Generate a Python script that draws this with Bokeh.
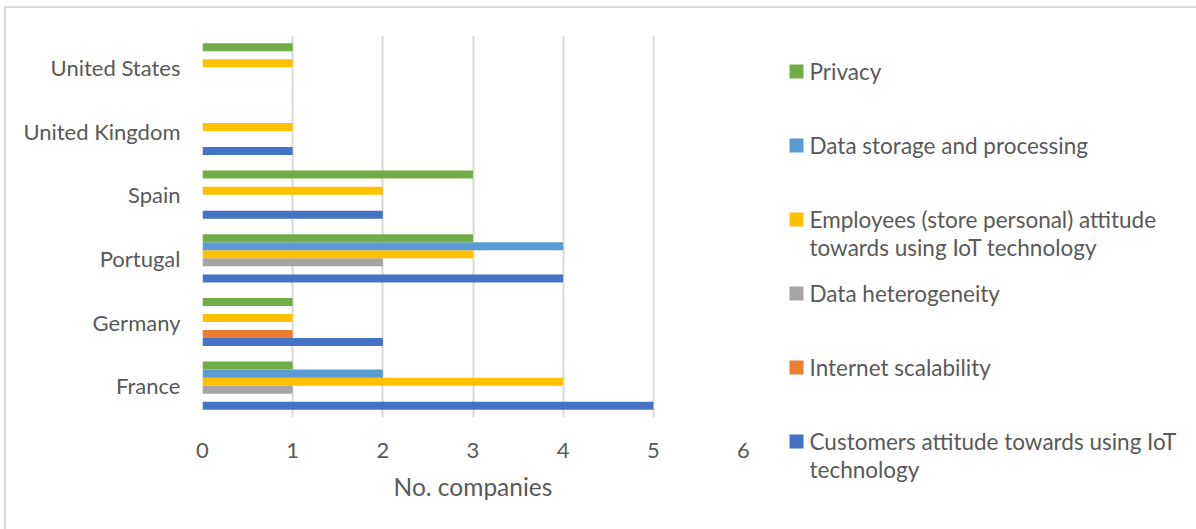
from bokeh.plotting import figure
from bokeh.models import FactorRange, Range1d, FixedTicker, ColumnDataSource
from bokeh.transform import dodge
from bokeh.layouts import row, column
from bokeh.embed import file_html
from bokeh.resources import INLINE
from bokeh.core.properties import value

countries = ["France", "Germany", "Portugal", "Spain", "United Kingdom", "United States"]
series = [
    "Customers attitude towards using IoT\ntechnology",
    "Internet scalability",
    "Data heterogeneity",
    "Employees (store personal) attitude\ntowards using IoT technology",
    "Data storage and processing",
    "Privacy",
]
customers = [5, 2, 4, 2, 1, 0]
internet = [0, 1, 0, 0, 0, 0]
heterogeneity = [1, 0, 2, 0, 0, 0]
employees = [4, 1, 3, 2, 1, 1]
storage = [2, 0, 4, 0, 0, 0]
privacy = [1, 1, 3, 3, 0, 1]
colors = ["#4472C4", "#ED7D31", "#A5A5A5", "#FFC000", "#5B9BD5", "#70AD47"]
xticks = [0, 1, 2, 3, 4, 5, 6]

FONT = "Lato"
TXT = "#595959"

values_list = [customers, internet, heterogeneity, employees, storage, privacy]
src = ColumnDataSource(dict(country=countries, **{f"s{i}": v for i, v in enumerate(values_list)}))

p = figure(width=756, height=521, y_range=FactorRange(factors=countries),
           x_range=Range1d(0, 6), output_backend="svg", toolbar_location=None,
           min_border_left=196, min_border_right=19, min_border_top=27, min_border_bottom=112)
p.outline_line_color = None
pitch = 0.126
for i in range(6):
    off = (i - 2.5) * pitch
    p.hbar(y=dodge("country", off, range=p.y_range), left=0, right=f"s{i}", height=pitch,
           source=src, fill_color=colors[i], line_color=None)

p.xaxis.ticker = FixedTicker(ticks=xticks)
p.xaxis.axis_label = "No. companies"
p.xaxis.axis_label_text_font = FONT
p.xaxis.axis_label_text_font_size = "24.5px"
p.xaxis.axis_label_text_font_style = "normal"
p.xaxis.axis_label_text_color = TXT
p.xaxis.axis_label_standoff = 11
p.xaxis.major_label_text_font = FONT
p.xaxis.major_label_text_font_size = "22px"
p.xaxis.major_label_text_color = TXT
p.xaxis.major_label_standoff = 19
p.yaxis.major_label_text_font = FONT
p.yaxis.major_label_text_font_size = "22px"
p.yaxis.major_label_text_color = TXT
p.yaxis.major_label_standoff = 16
for ax in (p.xaxis[0], p.yaxis[0]):
    ax.axis_line_color = None
    ax.major_tick_line_color = None
    ax.minor_tick_line_color = None
p.ygrid.grid_line_color = None
p.xgrid.grid_line_color = "#d9d9d9"
p.xgrid.grid_line_width = 2
p.xgrid.ticker = FixedTicker(ticks=xticks)

# legend panel, coordinates ~ page pixels
leg = figure(width=436, height=521, x_range=Range1d(762, 1198), y_range=Range1d(529, 8),
             output_backend="svg", toolbar_location=None, min_border=0)
leg.axis.visible = False
leg.grid.visible = False
leg.outline_line_color = None
order = [5, 4, 3, 2, 1, 0]
sq_y, sq_c, tx, ty = [], [], [], []
for k, i in enumerate(order):
    yc = 71 + 74 * k
    sq_y.append(yc)
    sq_c.append(colors[i])
    for j, line in enumerate(series[i].split("\n")):
        tx.append(line)
        ty.append(yc + 28 * j)
leg.rect(x=[796] * len(sq_y), y=sq_y, width=14, height=14, fill_color=sq_c, line_color=None)
leg.text(x=[809] * len(tx), y=ty, text=tx, text_font=value(FONT), text_font_size="22.5px",
         text_color=TXT, text_baseline="middle", text_align="left")

layout = row(p, column(leg), margin=(6, 0, 0, 4),
             styles={"border-left": "2px solid #d9d9d9", "border-top": "2px solid #d9d9d9"})
open("out.html", "w").write(file_html(layout, INLINE))
